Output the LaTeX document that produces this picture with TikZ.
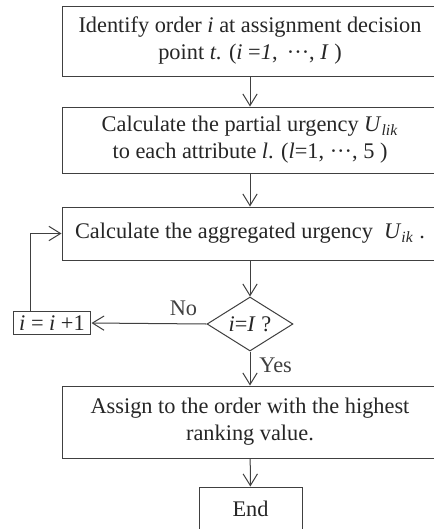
\documentclass[tikz,border=0pt]{standalone}
\usepackage{fontspec}
\setmainfont{Liberation Serif}
\usetikzlibrary{arrows.meta,shapes.geometric}

\tikzset{
  flowfont/.style={font=\fontsize{13.4}{16.2}\selectfont},
  procbox/.style={draw, rectangle, align=center, inner sep=2pt,
    minimum width=225.6pt, flowfont},
  flowline/.style={black!75, line width=0.6pt,
    -{Straight Barb[length=7pt,width=8.6pt]}},
}

\begin{document}
\begin{tikzpicture}[x=0.6pt,y=-0.6pt,draw=black!75,line width=0.6pt,text=black!85]
\clip (0,0) rectangle (434,529);
\fill[white] (0,0) rectangle (434,529);
\node[procbox,minimum height=42pt] (ident) at (250,41)
  {Identify order \textit{i} at assignment decision\\ point \textit{t}. (\textit{i} =\textit{1},\, ···, \textit{I} )};
\node[procbox,minimum height=39.6pt] (partial) at (250,140)
  {Calculate the partial urgency \textit{U}\textsubscript{\textit{lik}}\\ to each attribute \textit{l}. (\textit{l}=1, ···, 5 )};
\node[procbox,minimum height=31.8pt] (aggr) at (250,233.5)
  {Calculate the aggregated urgency \ \textit{U}\textsubscript{\textit{ik}} .};
\node[draw,diamond,aspect=1.6,inner sep=0pt,minimum width=51.6pt,minimum height=32.4pt,
  flowfont] (check) at (250,324) {\textit{i}=\textit{I} ?};
\node[draw,rectangle,inner sep=1pt,minimum width=46.8pt,minimum height=13.6pt,
  flowfont] (incr) at (52,323) {\textit{i} = \textit{i} +1};
\node[procbox,minimum height=43.2pt] (assign) at (250,422)
  {Assign to the order with the highest\\ ranking value.};
\node[draw,rectangle,minimum width=61.8pt,minimum height=26.4pt,
  flowfont] (finish) at (250.5,509) {End};

\draw[flowline] (ident) -- (partial);
\draw[flowline] (partial) -- (aggr);
\draw[flowline] (aggr) -- (check);
\draw[flowline] (check.west) -- (incr.east)
  node[pos=0.2,above=1pt,flowfont] {No};
\draw[flowline] ([xshift=-13.2pt]incr.north) |- (aggr.west);
\draw[flowline] (check.south) -- (assign.north)
  node[pos=0.4,right=2pt,flowfont] {Yes};
\draw[flowline] (assign) -- (finish);
\end{tikzpicture}
\end{document}
